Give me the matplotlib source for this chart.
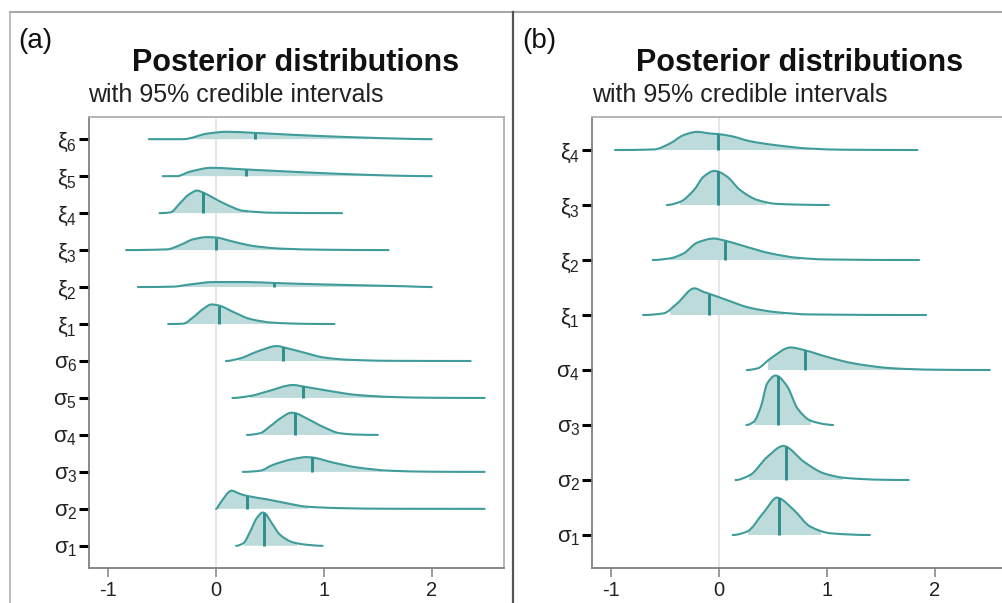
import numpy as np
import matplotlib
matplotlib.use('Agg')
import matplotlib.pyplot as plt
from matplotlib.path import Path
from matplotlib.patches import PathPatch, Rectangle
from matplotlib.lines import Line2D

plt.rcParams['font.family'] = ['Liberation Sans', 'DejaVu Sans']
plt.rcParams['mathtext.fontset'] = 'custom'
plt.rcParams['mathtext.rm'] = 'Liberation Sans'
plt.rcParams['mathtext.it'] = 'Liberation Sans'
plt.rcParams['mathtext.bf'] = 'Liberation Sans:bold'

# ---------------- data (rows listed top to bottom) ----------------
# Panel (a)
A_LABELS = [r'$\xi_6$', r'$\xi_5$', r'$\xi_4$', r'$\xi_3$', r'$\xi_2$', r'$\xi_1$',
            r'$\sigma_6$', r'$\sigma_5$', r'$\sigma_4$', r'$\sigma_3$', r'$\sigma_2$', r'$\sigma_1$']
A_X = [
    [-0.62, -0.30, -0.08, 0.10, 0.36, 0.60, 0.93, 1.46, 1.77, 2.00],
    [-0.49, -0.36, -0.24, -0.04, 0.28, 0.60, 1.00, 1.46, 1.75, 2.00],
    [-0.52, -0.42, -0.33, -0.25, -0.17, -0.12, -0.02, 0.10, 0.26, 0.54, 1.17],
    [-0.83, -0.45, -0.33, -0.21, -0.08, 0.00, 0.16, 0.35, 0.60, 1.00, 1.60],
    [-0.72, -0.40, -0.24, -0.02, 0.29, 0.54, 1.00, 1.46, 1.77, 2.00],
    [-0.44, -0.30, -0.21, -0.11, -0.04, 0.03, 0.16, 0.32, 0.53, 0.84, 1.10],
    [0.095, 0.225, 0.38, 0.57, 0.626, 0.84, 0.99, 1.21, 1.60, 2.36],
    [0.155, 0.32, 0.47, 0.72, 0.81, 1.03, 1.31, 1.62, 2.00, 2.49],
    [0.29, 0.41, 0.50, 0.60, 0.70, 0.734, 0.84, 1.00, 1.15, 1.30, 1.50],
    [0.25, 0.41, 0.53, 0.72, 0.84, 0.89, 1.09, 1.31, 1.62, 2.00, 2.49],
    [0.003, 0.04, 0.148, 0.225, 0.29, 0.47, 0.66, 0.84, 1.15, 1.60, 2.49],
    [0.188, 0.256, 0.32, 0.38, 0.435, 0.45, 0.52, 0.595, 0.72, 0.84, 0.99],
]
A_H = [
    [0, 0, 0.15, 0.20, 0.17, 0.135, 0.09, 0.035, 0.01, 0],
    [0, 0, 0.12, 0.225, 0.18, 0.135, 0.08, 0.03, 0.008, 0],
    [0, 0.02, 0.27, 0.50, 0.61, 0.56, 0.41, 0.23, 0.06, 0.01, 0],
    [0, 0.02, 0.135, 0.29, 0.35, 0.34, 0.23, 0.11, 0.04, 0.01, 0],
    [0, 0.01, 0.07, 0.135, 0.135, 0.11, 0.07, 0.04, 0.02, 0],
    [0, 0.01, 0.18, 0.42, 0.53, 0.50, 0.33, 0.135, 0.036, 0.005, 0],
    [0, 0.07, 0.25, 0.405, 0.37, 0.21, 0.10, 0.036, 0.005, 0],
    [0, 0.054, 0.17, 0.35, 0.31, 0.20, 0.08, 0.027, 0.005, 0],
    [0, 0.045, 0.225, 0.45, 0.60, 0.59, 0.45, 0.21, 0.045, 0.01, 0],
    [0, 0.03, 0.19, 0.35, 0.40, 0.39, 0.25, 0.12, 0.03, 0.005, 0],
    [0, 0.15, 0.49, 0.405, 0.35, 0.26, 0.15, 0.06, 0.02, 0.003, 0],
    [0, 0.07, 0.39, 0.75, 0.90, 0.89, 0.61, 0.30, 0.09, 0.03, 0],
]
A_MED = [0.36, 0.28, -0.12, 0.00, 0.54, 0.03, 0.626, 0.81, 0.734, 0.89, 0.29, 0.45]
A_LO = [-0.32, -0.35, -0.40, -0.45, -0.40, -0.30, 0.22, 0.32, 0.42, 0.42, 0.01, 0.26]
A_HI = [1.55, 1.60, 0.30, 0.70, 1.80, 0.55, 1.25, 1.60, 1.12, 1.55, 0.85, 0.75]

# Panel (b)
B_LABELS = [r'$\xi_4$', r'$\xi_3$', r'$\xi_2$', r'$\xi_1$',
            r'$\sigma_4$', r'$\sigma_3$', r'$\sigma_2$', r'$\sigma_1$']
B_X = [
    [-0.96, -0.60, -0.45, -0.325, -0.20, -0.077, -0.01, 0.11, 0.29, 0.54, 0.85, 1.16, 1.84],
    [-0.48, -0.355, -0.23, -0.14, -0.04, -0.01, 0.078, 0.20, 0.36, 0.54, 1.02],
    [-0.61, -0.45, -0.325, -0.20, -0.046, 0.062, 0.23, 0.48, 0.73, 1.00, 1.855],
    [-0.70, -0.51, -0.385, -0.225, -0.14, -0.093, 0.078, 0.29, 0.54, 0.85, 1.92],
    [0.26, 0.36, 0.48, 0.665, 0.795, 1.00, 1.25, 1.62, 2.00, 2.51],
    [0.257, 0.325, 0.39, 0.45, 0.526, 0.545, 0.635, 0.73, 0.85, 1.00, 1.06],
    [0.155, 0.29, 0.45, 0.60, 0.62, 0.79, 0.975, 1.16, 1.50, 1.76],
    [0.13, 0.26, 0.42, 0.54, 0.56, 0.695, 0.85, 1.04, 1.40],
]
B_H = [
    [0, 0.01, 0.12, 0.27, 0.33, 0.30, 0.29, 0.255, 0.16, 0.085, 0.025, 0.005, 0],
    [0, 0.06, 0.27, 0.515, 0.62, 0.61, 0.515, 0.27, 0.09, 0.02, 0],
    [0, 0.03, 0.12, 0.315, 0.39, 0.35, 0.255, 0.12, 0.04, 0.01, 0],
    [0, 0.03, 0.21, 0.485, 0.42, 0.39, 0.27, 0.13, 0.05, 0.01, 0],
    [0, 0.03, 0.21, 0.41, 0.36, 0.24, 0.12, 0.03, 0.005, 0],
    [0, 0.06, 0.33, 0.76, 0.90, 0.89, 0.70, 0.30, 0.08, 0.01, 0],
    [0, 0.09, 0.42, 0.62, 0.61, 0.33, 0.12, 0.04, 0.005, 0],
    [0, 0.06, 0.42, 0.68, 0.67, 0.455, 0.15, 0.03, 0],
]
B_MED = [-0.01, -0.01, 0.062, -0.093, 0.795, 0.545, 0.62, 0.56]
B_LO = [-0.55, -0.36, -0.45, -0.45, 0.46, 0.33, 0.28, 0.27]
B_HI = [0.85, 0.45, 0.75, 0.60, 1.70, 0.85, 1.15, 0.95]

X_TICKS = [-1, 0, 1, 2]
X_TICKLABELS = ['-1', '0', '1', '2']

# ---------------- styling ----------------
LINE_C = '#3f9c9a'
FILL_C = '#bddbda'
MED_C = '#2f8e8c'
XLIM = (-1.173, 2.669)
W, H = 1002, 603


def smooth_path(x, h, base):
    x = np.asarray(x, float)
    y = np.asarray(h, float)
    n = len(x)
    dx = np.diff(x)
    d = np.diff(y) / dx
    m = np.zeros(n)
    for k in range(1, n - 1):
        if d[k - 1] * d[k] > 0:
            w1 = 2 * dx[k] + dx[k - 1]
            w2 = dx[k] + 2 * dx[k - 1]
            m[k] = (w1 + w2) / (w1 / d[k - 1] + w2 / d[k])
    verts = [(x[0], base + y[0])]
    codes = [Path.MOVETO]
    for k in range(n - 1):
        verts += [(x[k] + dx[k] / 3, base + y[k] + m[k] * dx[k] / 3),
                  (x[k + 1] - dx[k] / 3, base + y[k + 1] - m[k + 1] * dx[k] / 3),
                  (x[k + 1], base + y[k + 1])]
        codes += [Path.CURVE4] * 3
    return verts, codes


def draw_panel(ax, labels, xs, hs, meds, los, his):
    n = len(labels)
    ax.set_xlim(*XLIM)
    ax.set_ylim(0.4, n + 0.6)
    ax.axvline(0, color='#e2e2e2', lw=1.2, zorder=1)
    for i in range(n):
        base = n - i
        verts, codes = smooth_path(xs[i], hs[i], base)
        fverts = verts + [(xs[i][-1], base), (xs[i][0], base), (0, 0)]
        fcodes = codes + [Path.LINETO, Path.LINETO, Path.CLOSEPOLY]
        fill = PathPatch(Path(fverts, fcodes), facecolor=FILL_C, edgecolor='none', zorder=2)
        ax.add_patch(fill)
        clip = Rectangle((los[i], base - 0.05), his[i] - los[i], 1.5,
                         transform=ax.transData)
        fill.set_clip_path(clip)
        ax.add_patch(PathPatch(Path(verts, codes), facecolor='none', edgecolor=LINE_C,
                               lw=1.5, zorder=3, capstyle='round', joinstyle='round'))
        mh = np.interp(meds[i], xs[i], hs[i])
        ax.plot([meds[i], meds[i]], [base, base + mh], color=MED_C, lw=2.1,
                zorder=4, solid_capstyle='butt')
    ax.set_yticks(range(n, 0, -1))
    ax.set_yticklabels(labels)
    ax.set_xticks(X_TICKS)
    ax.set_xticklabels(X_TICKLABELS)
    ax.tick_params(axis='y', length=7.5, width=2.2, color='black', pad=1,
                   labelsize=16, labelcolor='#222222')
    ax.tick_params(axis='x', length=6.5, width=1.2, color='#8a8a8a', pad=3,
                   labelsize=14.5, labelcolor='#222222')
    for s in ['left', 'bottom']:
        ax.spines[s].set_color('#808080')
        ax.spines[s].set_linewidth(1.3)
    for s in ['top', 'right']:
        ax.spines[s].set_color('#b0b0b0')
        ax.spines[s].set_linewidth(1.3)


fig = plt.figure(figsize=(W / 100, H / 100), dpi=100)
fig.patch.set_facecolor('white')

axA = fig.add_axes([89 / W, 1 - 568 / H, 415 / W, 451 / H])
draw_panel(axA, A_LABELS, A_X, A_H, A_MED, A_LO, A_HI)
axB = fig.add_axes([592 / W, 1 - 568 / H, 415 / W, 451 / H])
draw_panel(axB, B_LABELS, B_X, B_H, B_MED, B_LO, B_HI)

# panel frames
fig.add_artist(Line2D([10 / W, 1], [1 - 12 / H, 1 - 12 / H], color='#a8a8a8', lw=1.5))
fig.add_artist(Line2D([10 / W, 10 / W], [0, 1 - 12 / H], color='#b0b0b0', lw=1.2))
fig.add_artist(Line2D([512.5 / W, 512.5 / W], [0, 1 - 12 / H], color='#555555', lw=1.6))

# titles
for x0, tag, tx, sx in [(18, '(a)', 296, 88), (522, '(b)', 799.5, 592)]:
    fig.text(x0 / W, 1 - 41 / H, tag, fontsize=20, ha='left', va='center', color='#111111')
    fig.text(tx / W, 1 - 71 / H, 'Posterior distributions', fontsize=22, weight='bold',
             ha='center', va='baseline', color='#111111')
    fig.text(sx / W, 1 - 102 / H, 'with 95% credible intervals', fontsize=18,
             ha='left', va='baseline', color='#222222')

fig.savefig('out.png', dpi=100, facecolor='white')
